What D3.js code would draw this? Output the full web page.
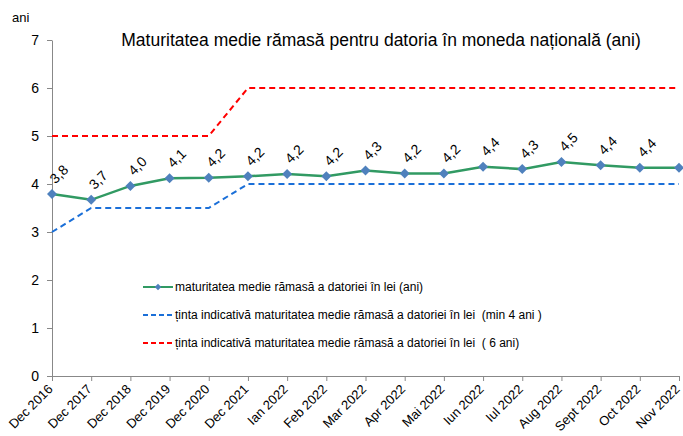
<!DOCTYPE html>
<html>
<head>
<meta charset="utf-8">
<script src="https://cdn.jsdelivr.net/npm/d3@7"></script>
<style>
  body { margin: 0; background: #fff; }
  text { font-family: "Liberation Sans", Arial, sans-serif; }
</style>
</head>
<body>
<div id="chart"></div>
<script>
// Categories and series
const categories = ["Dec 2016", "Dec 2017", "Dec 2018", "Dec 2019", "Dec 2020", "Dec 2021",
  "Ian 2022", "Feb 2022", "Mar 2022", "Apr 2022", "Mai 2022", "Iun 2022", "Iul 2022",
  "Aug 2022", "Sept 2022", "Oct 2022", "Nov 2022"];
const maturitate = [3.79, 3.67, 3.96, 4.12, 4.13, 4.16, 4.21, 4.16, 4.28, 4.22, 4.22, 4.36, 4.31, 4.46, 4.39, 4.34, 4.34];
const valueLabels = ["3,8", "3,7", "4,0", "4,1", "4,2", "4,2", "4,2", "4,2", "4,3", "4,2", "4,2", "4,4", "4,3", "4,5", "4,4", "4,4", ""];
const tintaMin = [3, 3.5, 3.5, 3.5, 3.5, 4, 4, 4, 4, 4, 4, 4, 4, 4, 4, 4, 4];
const tinta6 = [5, 5, 5, 5, 5, 6, 6, 6, 6, 6, 6, 6, 6, 6, 6, 6, 6];
const yTicks = [0, 1, 2, 3, 4, 5, 6, 7];
const legendLabels = [
  "maturitatea medie rămasă a datoriei în lei (ani)",
  "ținta indicativă maturitatea medie rămasă a datoriei în lei  (min 4 ani )",
  "ținta indicativă maturitatea medie rămasă a datoriei în lei  ( 6 ani)"
];

const width = 683, height = 436;
const margin = { top: 40, right: 4, bottom: 60, left: 52 };

const svg = d3.select("#chart")
  .append("svg")
  .attr("width", width)
  .attr("height", height);

// Scales
const x = d3.scalePoint()
  .domain(categories)
  .range([margin.left, width - margin.right]);

const y = d3.scaleLinear()
  .domain([0, 7])
  .range([height - margin.bottom, margin.top]);

// Title
svg.append("text")
  .attr("x", 381)
  .attr("y", 46)
  .attr("text-anchor", "middle")
  .style("font-size", "17.5px")
  .style("fill", "#000")
  .text("Maturitatea medie rămasă pentru datoria în moneda națională (ani)");

// Y unit label
svg.append("text")
  .attr("x", 12)
  .attr("y", 22)
  .style("font-size", "13px")
  .text("ani");

// Y axis
const yAxis = svg.append("g")
  .attr("transform", `translate(${margin.left},0)`)
  .call(d3.axisLeft(y).tickValues(yTicks).tickFormat(d3.format("d"))
    .tickSize(5).tickPadding(8).tickSizeOuter(0));
yAxis.select(".domain").attr("stroke", "#888");
yAxis.selectAll(".tick line").attr("stroke", "#888");
yAxis.selectAll("text")
  .style("font-size", "14px")
  .style("font-family", "Liberation Sans, Arial, sans-serif")
  .attr("fill", "#000");

// X axis
const xAxis = svg.append("g")
  .attr("transform", `translate(0,${y(0)})`)
  .call(d3.axisBottom(x).tickSize(5).tickSizeOuter(0));
xAxis.select(".domain").attr("stroke", "#888");
xAxis.selectAll(".tick line").attr("stroke", "#888");
xAxis.selectAll("text")
  .attr("x", 0)
  .attr("y", 0)
  .attr("dy", 0)
  .attr("transform", "translate(1,14)rotate(-45)")
  .style("text-anchor", "end")
  .style("font-size", "13px")
  .style("font-family", "Liberation Sans, Arial, sans-serif")
  .attr("fill", "#000");

// Lines
const line = (arr) => d3.line()
  .x((d, i) => x(categories[i]))
  .y((d) => y(d))(arr);

svg.append("path")
  .attr("d", line(tinta6))
  .attr("fill", "none")
  .attr("stroke", "#ff0000")
  .attr("stroke-width", 2)
  .attr("stroke-dasharray", "6,4");

svg.append("path")
  .attr("d", line(tintaMin))
  .attr("fill", "none")
  .attr("stroke", "#1a6fd8")
  .attr("stroke-width", 2)
  .attr("stroke-dasharray", "6,4");

svg.append("path")
  .attr("d", line(maturitate))
  .attr("fill", "none")
  .attr("stroke", "#319a63")
  .attr("stroke-width", 2.5);

// Diamond markers (rotated squares)
const diamond = d3.symbol().type(d3.symbolSquare).size(50);
svg.selectAll(".marker")
  .data(maturitate)
  .enter()
  .append("path")
  .attr("class", "marker")
  .attr("d", diamond)
  .attr("transform", (d, i) => `translate(${x(categories[i])},${y(d)})rotate(45)`)
  .attr("fill", "#4f81bd");

// Value labels
svg.selectAll(".vlabel")
  .data(maturitate)
  .enter()
  .append("text")
  .attr("class", "vlabel")
  .attr("transform", (d, i) => `translate(${x(categories[i]) + 7},${y(d) - 20})rotate(-45)`)
  .attr("text-anchor", "middle")
  .attr("dy", "0.35em")
  .style("font-size", "14px")
  .style("fill", "#000")
  .text((d, i) => valueLabels[i]);

// Legend
const legendColors = ["#319a63", "#1a6fd8", "#ff0000"];
const legend = svg.append("g").attr("transform", "translate(143,287)");
legendLabels.forEach((label, i) => {
  const g = legend.append("g").attr("transform", `translate(0,${i * 28})`);
  g.append("line")
    .attr("x1", 0).attr("x2", 30)
    .attr("y1", 0).attr("y2", 0)
    .attr("stroke", legendColors[i])
    .attr("stroke-width", 2)
    .attr("stroke-dasharray", i === 0 ? null : "5,3");
  if (i === 0) {
    g.append("path")
      .attr("d", d3.symbol().type(d3.symbolSquare).size(22))
      .attr("transform", "translate(15,0)rotate(45)")
      .attr("fill", "#4f81bd");
  }
  g.append("text")
    .attr("x", 32)
    .attr("y", 0)
    .attr("dy", "0.35em")
    .style("font-size", "12px")
    .style("white-space", "pre")
    .style("fill", "#000")
    .text(label);
});
</script>
</body>
</html>
